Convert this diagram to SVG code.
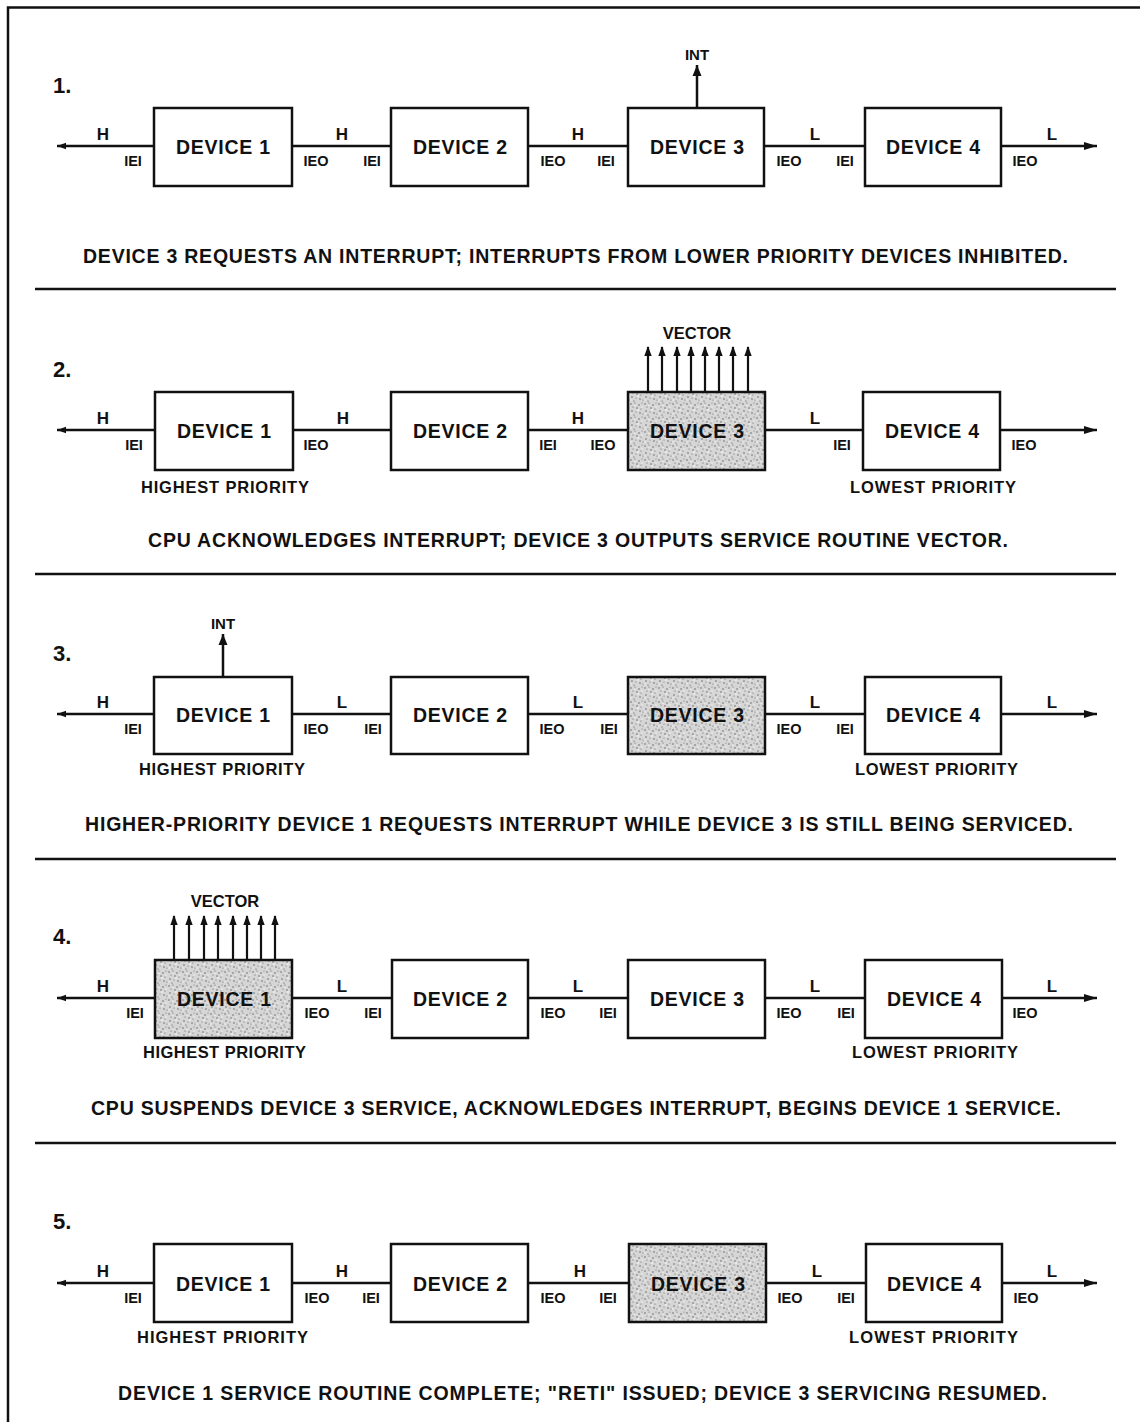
<svg xmlns="http://www.w3.org/2000/svg" width="1140" height="1422" viewBox="0 0 1140 1422">
<defs>
<style>
text{font-family:"Liberation Sans",Arial,sans-serif;font-weight:bold;fill:#111}
.box{fill:#fff;stroke:#111;stroke-width:2.5}
.shade{fill:url(#stipple);stroke:#111;stroke-width:2.5}
.ln{stroke:#111;stroke-width:2.5;fill:none}
.vl{stroke:#111;stroke-width:2.2;fill:none}
.dev{font-size:19.5px;text-anchor:middle}
.pin{font-size:14.5px;text-anchor:middle}
.hl{font-size:17px;text-anchor:middle}
.num{font-size:22px}
.cap{font-size:19.5px}
.pri{font-size:16.5px}
.sig{font-size:15px;text-anchor:middle}
.vec{font-size:16.5px;text-anchor:middle}
</style>
<pattern id="stipple" width="14" height="14" patternUnits="userSpaceOnUse">
<rect width="14" height="14" fill="#d6d6d6"/>
<circle cx="1" cy="2" r="0.7" fill="#555"/><circle cx="5" cy="1" r="0.6" fill="#666"/>
<circle cx="9" cy="3" r="0.7" fill="#555"/><circle cx="12" cy="1" r="0.6" fill="#777"/>
<circle cx="3" cy="5" r="0.6" fill="#666"/><circle cx="7" cy="6" r="0.7" fill="#555"/>
<circle cx="11" cy="7" r="0.6" fill="#666"/><circle cx="2" cy="9" r="0.7" fill="#555"/>
<circle cx="6" cy="10" r="0.6" fill="#777"/><circle cx="10" cy="11" r="0.7" fill="#555"/>
<circle cx="13" cy="12" r="0.6" fill="#666"/><circle cx="4" cy="13" r="0.6" fill="#555"/>
<circle cx="8" cy="8" r="0.9" fill="#f2f2f2"/><circle cx="1" cy="12" r="0.8" fill="#f2f2f2"/>
<circle cx="12" cy="5" r="0.8" fill="#f2f2f2"/><circle cx="5" cy="3.5" r="0.7" fill="#f2f2f2"/>
</pattern>
<marker id="ar" markerUnits="userSpaceOnUse" markerWidth="14" markerHeight="10" refX="13" refY="5" orient="auto"><path d="M0,1 L13,5 L0,9 Z" fill="#111"/></marker>
<marker id="al" markerUnits="userSpaceOnUse" markerWidth="10" markerHeight="8" refX="9" refY="4" orient="auto"><path d="M0,0.8 L9,4 L0,7.2 Z" fill="#111"/></marker>
<marker id="au" markerUnits="userSpaceOnUse" markerWidth="12" markerHeight="10" refX="11" refY="5" orient="auto"><path d="M0,0.5 L11,5 L0,9.5 Z" fill="#111"/></marker>
<marker id="av" markerUnits="userSpaceOnUse" markerWidth="10" markerHeight="8" refX="9" refY="4" orient="auto"><path d="M0,0.3 L10,4 L0,7.7 Z" fill="#111"/></marker>
</defs>
<rect width="1140" height="1422" fill="#fff"/>
<g id="frame">
<path class="ln" d="M8,1422 L8,7.5 L1140,7.5" stroke-width="3"/>
<line class="ln" x1="35" y1="289" x2="1116" y2="289"/>
<line class="ln" x1="35" y1="574" x2="1116" y2="574"/>
<line class="ln" x1="35" y1="859" x2="1116" y2="859"/>
<line class="ln" x1="35" y1="1143" x2="1116" y2="1143"/>
</g>

<!-- PANEL 1 -->
<g id="panel1" transform="translate(0,146)">
<text class="num" x="53" y="-53">1.</text>
<g id="p1-connectors">
<line class="ln" x1="154" y1="0" x2="57" y2="0" marker-end="url(#al)"/>
<line class="ln" x1="292" y1="0" x2="391" y2="0"/>
<line class="ln" x1="528" y1="0" x2="628" y2="0"/>
<line class="ln" x1="764" y1="0" x2="865" y2="0"/>
<line class="ln" x1="1001" y1="0" x2="1097" y2="0" marker-end="url(#ar)"/>
<line class="ln" x1="697" y1="-38" x2="697" y2="-81" marker-end="url(#au)"/>
</g>
<g id="p1-dev1"><rect class="box" x="154" y="-38" width="138" height="78"/><text class="dev" x="223" y="8" textLength="94">DEVICE 1</text></g>
<g id="p1-dev2"><rect class="box" x="391" y="-38" width="137" height="78"/><text class="dev" x="460" y="8" textLength="94">DEVICE 2</text></g>
<g id="p1-dev3"><rect class="box" x="628" y="-38" width="136" height="78"/><text class="dev" x="697" y="8" textLength="94">DEVICE 3</text></g>
<g id="p1-dev4"><rect class="box" x="865" y="-38" width="136" height="78"/><text class="dev" x="933" y="8" textLength="94">DEVICE 4</text></g>
<g id="p1-labels">
<text class="sig" x="697" y="-86">INT</text>
<text class="hl" x="103" y="-6">H</text><text class="pin" x="133" y="20">IEI</text>
<text class="pin" x="316" y="20">IEO</text><text class="hl" x="342" y="-6">H</text><text class="pin" x="372" y="20">IEI</text>
<text class="pin" x="553" y="20">IEO</text><text class="hl" x="578" y="-6">H</text><text class="pin" x="606" y="20">IEI</text>
<text class="pin" x="789" y="20">IEO</text><text class="hl" x="815" y="-6">L</text><text class="pin" x="845" y="20">IEI</text>
<text class="pin" x="1025" y="20">IEO</text><text class="hl" x="1052" y="-6">L</text>
</g>
<text class="cap" x="83" y="117" textLength="985" lengthAdjust="spacing">DEVICE 3 REQUESTS AN INTERRUPT; INTERRUPTS FROM LOWER PRIORITY DEVICES INHIBITED.</text>
</g>

<!-- PANEL 2 -->
<g id="panel2" transform="translate(0,430)">
<text class="num" x="53" y="-53">2.</text>
<g id="p2-connectors">
<line class="ln" x1="155" y1="0" x2="57" y2="0" marker-end="url(#al)"/>
<line class="ln" x1="293" y1="0" x2="391" y2="0"/>
<line class="ln" x1="528" y1="0" x2="628" y2="0"/>
<line class="ln" x1="765" y1="0" x2="863" y2="0"/>
<line class="ln" x1="1000" y1="0" x2="1097" y2="0" marker-end="url(#ar)"/>
<g id="p2-vector">
<line class="vl" x1="648" y1="-38" x2="648" y2="-83" marker-end="url(#av)"/>
<line class="vl" x1="662" y1="-38" x2="662" y2="-83" marker-end="url(#av)"/>
<line class="vl" x1="677" y1="-38" x2="677" y2="-83" marker-end="url(#av)"/>
<line class="vl" x1="691" y1="-38" x2="691" y2="-83" marker-end="url(#av)"/>
<line class="vl" x1="705" y1="-38" x2="705" y2="-83" marker-end="url(#av)"/>
<line class="vl" x1="719" y1="-38" x2="719" y2="-83" marker-end="url(#av)"/>
<line class="vl" x1="733" y1="-38" x2="733" y2="-83" marker-end="url(#av)"/>
<line class="vl" x1="748" y1="-38" x2="748" y2="-83" marker-end="url(#av)"/>
</g>
</g>
<g id="p2-dev1"><rect class="box" x="155" y="-38" width="138" height="78"/><text class="dev" x="224" y="8" textLength="94">DEVICE 1</text></g>
<g id="p2-dev2"><rect class="box" x="391" y="-38" width="137" height="78"/><text class="dev" x="460" y="8" textLength="94">DEVICE 2</text></g>
<g id="p2-dev3"><rect class="shade" x="628" y="-38" width="137" height="78"/><text class="dev" x="697" y="8" textLength="94">DEVICE 3</text></g>
<g id="p2-dev4"><rect class="box" x="863" y="-38" width="137" height="78"/><text class="dev" x="932" y="8" textLength="94">DEVICE 4</text></g>
<g id="p2-labels">
<text class="vec" x="697" y="-91">VECTOR</text>
<text class="hl" x="103" y="-6">H</text><text class="pin" x="134" y="20">IEI</text>
<text class="pin" x="316" y="20">IEO</text><text class="hl" x="343" y="-6">H</text>
<text class="pin" x="548" y="20">IEI</text><text class="hl" x="578" y="-6">H</text><text class="pin" x="603" y="20">IEO</text>
<text class="hl" x="815" y="-6">L</text><text class="pin" x="842" y="20">IEI</text>
<text class="pin" x="1024" y="20">IEO</text>
<text class="pri" x="141" y="63" textLength="168">HIGHEST PRIORITY</text>
<text class="pri" x="850" y="63" textLength="166">LOWEST PRIORITY</text>
</g>
<text class="cap" x="148" y="117" textLength="860" lengthAdjust="spacing">CPU ACKNOWLEDGES INTERRUPT; DEVICE 3 OUTPUTS SERVICE ROUTINE VECTOR.</text>
</g>

<!-- PANEL 3 -->
<g id="panel3" transform="translate(0,714)">
<text class="num" x="53" y="-53">3.</text>
<g id="p3-connectors">
<line class="ln" x1="154" y1="0" x2="57" y2="0" marker-end="url(#al)"/>
<line class="ln" x1="292" y1="0" x2="391" y2="0"/>
<line class="ln" x1="528" y1="0" x2="628" y2="0"/>
<line class="ln" x1="765" y1="0" x2="865" y2="0"/>
<line class="ln" x1="1001" y1="0" x2="1097" y2="0" marker-end="url(#ar)"/>
<line class="ln" x1="223" y1="-37" x2="223" y2="-80" marker-end="url(#au)"/>
</g>
<g id="p3-dev1"><rect class="box" x="154" y="-37" width="138" height="77"/><text class="dev" x="223" y="8" textLength="94">DEVICE 1</text></g>
<g id="p3-dev2"><rect class="box" x="391" y="-37" width="137" height="77"/><text class="dev" x="460" y="8" textLength="94">DEVICE 2</text></g>
<g id="p3-dev3"><rect class="shade" x="628" y="-37" width="137" height="77"/><text class="dev" x="697" y="8" textLength="94">DEVICE 3</text></g>
<g id="p3-dev4"><rect class="box" x="865" y="-37" width="136" height="77"/><text class="dev" x="933" y="8" textLength="94">DEVICE 4</text></g>
<g id="p3-labels">
<text class="sig" x="223" y="-85">INT</text>
<text class="hl" x="103" y="-6">H</text><text class="pin" x="133" y="20">IEI</text>
<text class="pin" x="316" y="20">IEO</text><text class="hl" x="342" y="-6">L</text><text class="pin" x="373" y="20">IEI</text>
<text class="pin" x="552" y="20">IEO</text><text class="hl" x="578" y="-6">L</text><text class="pin" x="609" y="20">IEI</text>
<text class="pin" x="789" y="20">IEO</text><text class="hl" x="815" y="-6">L</text><text class="pin" x="845" y="20">IEI</text>
<text class="hl" x="1052" y="-6">L</text>
<text class="pri" x="139" y="61" textLength="166">HIGHEST PRIORITY</text>
<text class="pri" x="855" y="61" textLength="163">LOWEST PRIORITY</text>
</g>
<text class="cap" x="85" y="117" textLength="988" lengthAdjust="spacing">HIGHER-PRIORITY DEVICE 1 REQUESTS INTERRUPT WHILE DEVICE 3 IS STILL BEING SERVICED.</text>
</g>

<!-- PANEL 4 -->
<g id="panel4" transform="translate(0,998)">
<text class="num" x="53" y="-54">4.</text>
<g id="p4-connectors">
<line class="ln" x1="155" y1="0" x2="57" y2="0" marker-end="url(#al)"/>
<line class="ln" x1="292" y1="0" x2="392" y2="0"/>
<line class="ln" x1="528" y1="0" x2="628" y2="0"/>
<line class="ln" x1="765" y1="0" x2="865" y2="0"/>
<line class="ln" x1="1002" y1="0" x2="1097" y2="0" marker-end="url(#ar)"/>
<g id="p4-vector">
<line class="vl" x1="174" y1="-38" x2="174" y2="-82" marker-end="url(#av)"/>
<line class="vl" x1="189" y1="-38" x2="189" y2="-82" marker-end="url(#av)"/>
<line class="vl" x1="204" y1="-38" x2="204" y2="-82" marker-end="url(#av)"/>
<line class="vl" x1="218" y1="-38" x2="218" y2="-82" marker-end="url(#av)"/>
<line class="vl" x1="233" y1="-38" x2="233" y2="-82" marker-end="url(#av)"/>
<line class="vl" x1="247" y1="-38" x2="247" y2="-82" marker-end="url(#av)"/>
<line class="vl" x1="261" y1="-38" x2="261" y2="-82" marker-end="url(#av)"/>
<line class="vl" x1="275" y1="-38" x2="275" y2="-82" marker-end="url(#av)"/>
</g>
</g>
<g id="p4-dev1"><rect class="shade" x="155" y="-38" width="137" height="78"/><text class="dev" x="224" y="8" textLength="94">DEVICE 1</text></g>
<g id="p4-dev2"><rect class="box" x="392" y="-38" width="136" height="78"/><text class="dev" x="460" y="8" textLength="94">DEVICE 2</text></g>
<g id="p4-dev3"><rect class="box" x="628" y="-38" width="137" height="78"/><text class="dev" x="697" y="8" textLength="94">DEVICE 3</text></g>
<g id="p4-dev4"><rect class="box" x="865" y="-38" width="137" height="78"/><text class="dev" x="934" y="8" textLength="94">DEVICE 4</text></g>
<g id="p4-labels">
<text class="vec" x="225" y="-91">VECTOR</text>
<text class="hl" x="103" y="-6">H</text><text class="pin" x="135" y="20">IEI</text>
<text class="pin" x="317" y="20">IEO</text><text class="hl" x="342" y="-6">L</text><text class="pin" x="373" y="20">IEI</text>
<text class="pin" x="553" y="20">IEO</text><text class="hl" x="578" y="-6">L</text><text class="pin" x="608" y="20">IEI</text>
<text class="pin" x="789" y="20">IEO</text><text class="hl" x="815" y="-6">L</text><text class="pin" x="846" y="20">IEI</text>
<text class="pin" x="1025" y="20">IEO</text><text class="hl" x="1052" y="-6">L</text>
<text class="pri" x="143" y="60" textLength="163">HIGHEST PRIORITY</text>
<text class="pri" x="852" y="60" textLength="166">LOWEST PRIORITY</text>
</g>
<text class="cap" x="91" y="117" textLength="970" lengthAdjust="spacing">CPU SUSPENDS DEVICE 3 SERVICE, ACKNOWLEDGES INTERRUPT, BEGINS DEVICE 1 SERVICE.</text>
</g>

<!-- PANEL 5 -->
<g id="panel5" transform="translate(0,1283)">
<text class="num" x="53" y="-54">5.</text>
<g id="p5-connectors">
<line class="ln" x1="154" y1="0" x2="57" y2="0" marker-end="url(#al)"/>
<line class="ln" x1="292" y1="0" x2="391" y2="0"/>
<line class="ln" x1="528" y1="0" x2="629" y2="0"/>
<line class="ln" x1="766" y1="0" x2="866" y2="0"/>
<line class="ln" x1="1002" y1="0" x2="1097" y2="0" marker-end="url(#ar)"/>
</g>
<g id="p5-dev1"><rect class="box" x="154" y="-39" width="138" height="78"/><text class="dev" x="223" y="8" textLength="94">DEVICE 1</text></g>
<g id="p5-dev2"><rect class="box" x="391" y="-39" width="137" height="78"/><text class="dev" x="460" y="8" textLength="94">DEVICE 2</text></g>
<g id="p5-dev3"><rect class="shade" x="629" y="-39" width="137" height="78"/><text class="dev" x="698" y="8" textLength="94">DEVICE 3</text></g>
<g id="p5-dev4"><rect class="box" x="866" y="-39" width="136" height="78"/><text class="dev" x="934" y="8" textLength="94">DEVICE 4</text></g>
<g id="p5-labels">
<text class="hl" x="103" y="-6">H</text><text class="pin" x="133" y="20">IEI</text>
<text class="pin" x="317" y="20">IEO</text><text class="hl" x="342" y="-6">H</text><text class="pin" x="371" y="20">IEI</text>
<text class="pin" x="553" y="20">IEO</text><text class="hl" x="580" y="-6">H</text><text class="pin" x="608" y="20">IEI</text>
<text class="pin" x="790" y="20">IEO</text><text class="hl" x="817" y="-6">L</text><text class="pin" x="846" y="20">IEI</text>
<text class="pin" x="1026" y="20">IEO</text><text class="hl" x="1052" y="-6">L</text>
<text class="pri" x="137" y="60" textLength="171">HIGHEST PRIORITY</text>
<text class="pri" x="849" y="60" textLength="169">LOWEST PRIORITY</text>
</g>
<text class="cap" x="118" y="117" textLength="929" lengthAdjust="spacing">DEVICE 1 SERVICE ROUTINE COMPLETE; "RETI" ISSUED; DEVICE 3 SERVICING RESUMED.</text>
</g>
</svg>
